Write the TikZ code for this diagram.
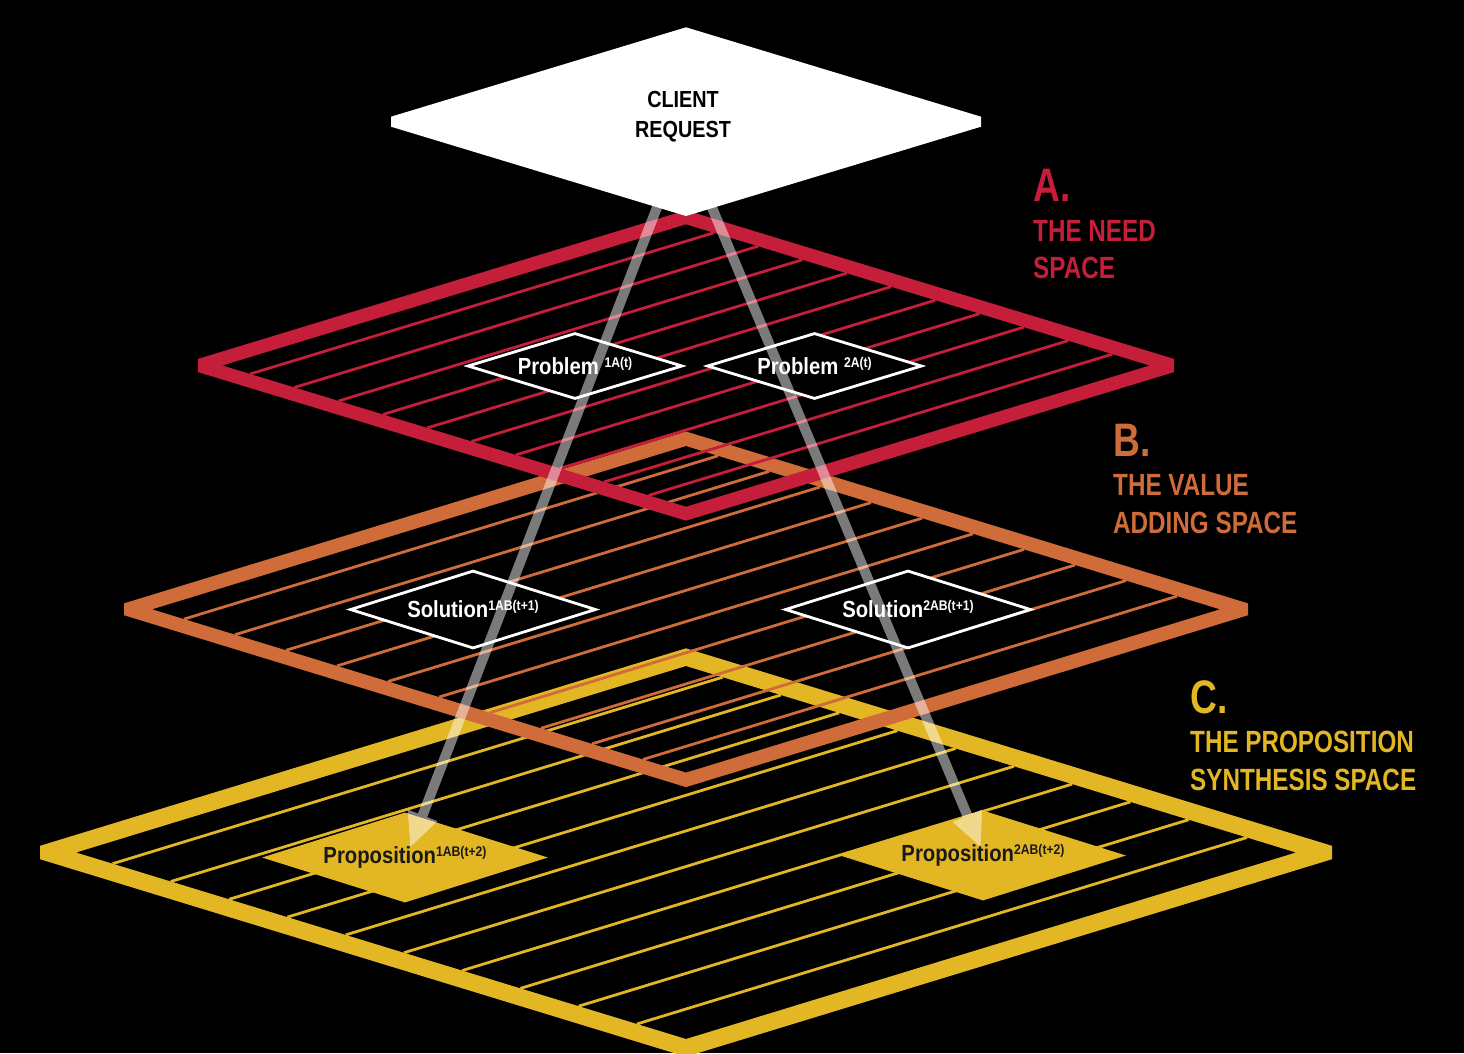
\documentclass[tikz,border=0pt]{standalone}
\usepackage{fontspec}
\setmainfont{Liberation Sans}
\newfontfamily\crfont[FakeStretch=0.85]{Liberation Sans}
\newfontfamily\dfont[FakeStretch=0.87]{Liberation Sans}
\newfontfamily\lbfont[FakeStretch=0.79]{Liberation Sans}
\usetikzlibrary{shapes.geometric,arrows.meta}
\definecolor{cRed}{RGB}{196,30,58}
\definecolor{cOrange}{RGB}{207,108,58}
\definecolor{cYellow}{RGB}{227,182,36}
\newcommand{\supx}[1]{\raisebox{7pt}{\fontsize{14}{14}\selectfont #1}}
% #1 cx, #2 cy, #3 inner half-width, #4 inner half-height, #5 band (vertical), #6 flat offset, #7 colour
\newcommand{\drawlayer}[7]{%
  \pgfmathsetmacro{\Lfy}{#5-(#4/#3)*#6}%
  \fill[#7, even odd rule]
    (#1,{#2-#4-#5}) -- ({#1+#3+#6},{#2-\Lfy}) -- ({#1+#3+#6},{#2+\Lfy}) --
    (#1,{#2+#4+#5}) -- ({#1-#3-#6},{#2+\Lfy}) -- ({#1-#3-#6},{#2-\Lfy}) -- cycle
    (#1,{#2-#4}) -- ({#1+#3},#2) -- (#1,{#2+#4}) -- ({#1-#3},#2) -- cycle;
  \foreach \k in {0,...,9}{%
    \pgfmathsetmacro{\Ls}{0.06+0.0955*\k}%
    \draw[#7, hatch] ({#1-#3+\Ls*#3},{#2+\Ls*#4}) -- ({#1+\Ls*#3},{#2-#4+\Ls*#4});
  }%
}
\tikzset{
  hatch/.style={line width=2.8pt},
  probbox/.style={diamond, draw=white, fill=black, line width=2.8pt, inner sep=0pt,
    minimum width=215pt, minimum height=66pt, aspect=3.2, text=white,
    font=\dfont\bfseries\fontsize{23.3}{24}\selectfont},
  solbox/.style={probbox, minimum width=246pt, minimum height=78pt},
  propbox/.style={diamond, fill=cYellow, draw=none, inner sep=0pt,
    minimum width=286pt, minimum height=90pt, aspect=3.2, text=black!90,
    font=\dfont\bfseries\fontsize{23.3}{24}\selectfont},
  flow/.style={draw=white, line width=10pt, -{Triangle[length=35pt,width=29pt]}},
  crtext/.style={align=center, inner sep=0pt, text=black,
    font=\crfont\bfseries\fontsize{23.3}{30}\selectfont},
  labbig/.style={anchor=base west, inner sep=0pt, font=\lbfont\bfseries\fontsize{47}{47}\selectfont},
  labsmall/.style={anchor=base west, inner sep=0pt, font=\lbfont\bfseries\fontsize{30.7}{31}\selectfont},
}
\begin{document}
\begin{tikzpicture}[x=1pt,y=-1pt]
\useasboundingbox (0,0) rectangle (1464,1053);
\fill[black] (0,0) rectangle (1464,1053);

% layers, bottom to top
\drawlayer{686}{852.5}{610}{186.5}{17.7}{36}{cYellow}
\drawlayer{686}{609.3}{534}{163.3}{14.5}{28}{cOrange}
\drawlayer{686}{365.5}{463.7}{141.2}{14}{24.5}{cRed}

% diamonds
\node[probbox] (p1) at (575,366) {Problem \supx{1A(t)}};
\node[probbox] (p2) at (814.5,366) {Problem \supx{2A(t)}};
\node[solbox] (s1n) at (473,609.5) {Solution\supx{1AB(t+1)}};
\node[solbox] (s2n) at (908,609.5) {Solution\supx{2AB(t+1)}};
\node[propbox] (pr1) at (405,857.5) {Proposition\supx{1AB(t+2)}};
\node[propbox] (pr2) at (983,855.5) {Proposition\supx{2AB(t+2)}};

% flows
\coordinate (a1s) at (663.7,190);
\coordinate (a1e) at (410,848);
\coordinate (a2s) at (704.6,190);
\coordinate (a2e) at (981,848);
\begin{scope}[transparency group, opacity=0.48]
  \draw[flow] (a1s) -- (a1e);
  \draw[flow] (a2s) -- (a2e);
\end{scope}

% client request
\fill[white] (686,27.3) -- (981,116.7) -- (981,126.7) -- (686,216) -- (391,126.7) -- (391,116.7) -- cycle;
\node[crtext] (cr) at (683,117) {CLIENT\\REQUEST};

% labels
\node[labbig, text=cRed] (la) at (1033,201.5) {A.};
\node[labsmall, text=cRed] (la1) at (1033,241) {THE NEED};
\node[labsmall, text=cRed] (la2) at (1033,278) {SPACE};
\node[labbig, text=cOrange] (lb) at (1113,456.5) {B.};
\node[labsmall, text=cOrange] (lb1) at (1113,495) {THE VALUE};
\node[labsmall, text=cOrange] (lb2) at (1113,533) {ADDING SPACE};
\node[labbig, text=cYellow] (lc) at (1190,713.5) {C.};
\node[labsmall, text=cYellow] (lc1) at (1190,752) {THE PROPOSITION};
\node[labsmall, text=cYellow] (lc2) at (1190,790) {SYNTHESIS SPACE};
\end{tikzpicture}
\end{document}
